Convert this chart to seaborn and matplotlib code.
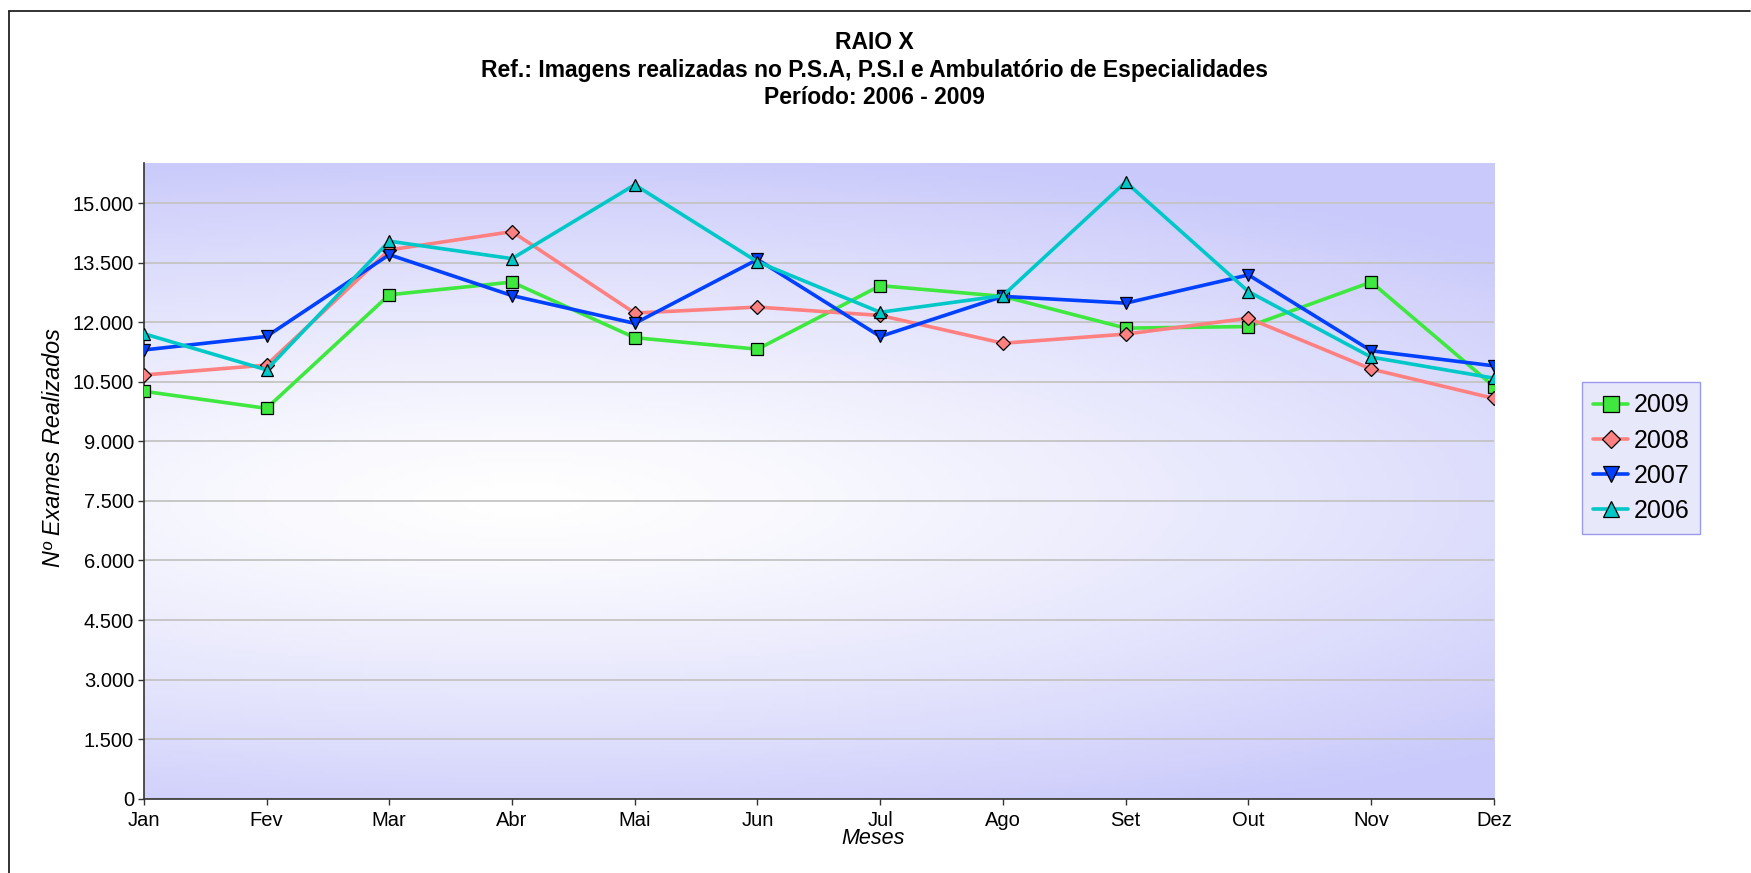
import numpy as np
import pandas as pd
import matplotlib
matplotlib.use('Agg')
import matplotlib.pyplot as plt
from matplotlib.ticker import FuncFormatter
from matplotlib.lines import Line2D
import seaborn as sns

# Dados
meses = ['Jan', 'Fev', 'Mar', 'Abr', 'Mai', 'Jun', 'Jul', 'Ago', 'Set', 'Out', 'Nov', 'Dez']
anos = ['2009', '2008', '2007', '2006']
v2009 = [10260, 9830, 12690, 13010, 11610, 11320, 12920, 12650, 11850, 11890, 13010, 10380]
v2008 = [10670, 10920, 13820, 14280, 12230, 12380, 12170, 11470, 11700, 12100, 10820, 10080]
v2007 = [11300, 11640, 13700, 12670, 11970, 13580, 11640, 12650, 12480, 13190, 11280, 10900]
v2006 = [11710, 10800, 14040, 13600, 15460, 13520, 12250, 12670, 15530, 12770, 11120, 10590]

cores = {'2009': '#3ee83e', '2008': '#ff8080', '2007': '#0040ff', '2006': '#00c8c8'}
marcadores = {'2009': 's', '2008': 'D', '2007': 'v', '2006': '^'}

df = pd.DataFrame({
    'Mes': meses * 4,
    'Ano': [a for a in anos for _ in meses],
    'Exames': v2009 + v2008 + v2007 + v2006,
})

sns.set_theme(style='white')
plt.rcParams['font.family'] = ['Liberation Sans', 'DejaVu Sans']
plt.rcParams['text.color'] = 'black'
plt.rcParams['axes.labelcolor'] = 'black'
plt.rcParams['xtick.color'] = 'black'
plt.rcParams['ytick.color'] = 'black'

fig = plt.figure(figsize=(17.51, 8.73), dpi=100)
ax = fig.add_axes([0.0821, 0.0851, 0.7711, 0.7278])

# fundo em degradê
gx, gy = np.meshgrid(np.linspace(0, 1, 300), np.linspace(0, 1, 200))
d = np.sqrt(((gx - 0.28) / 1.15) ** 2 + ((gy - 0.47) / 0.62) ** 2)
t = np.clip(d / 0.9, 0, 1) ** 1.3
branco = np.array([1.0, 1.0, 1.0])
lavanda = np.array([0.79, 0.79, 0.985])
img = branco[None, None, :] * (1 - t[..., None]) + lavanda[None, None, :] * t[..., None]
ax.imshow(img, extent=(0, 11, 0, 16000), origin='lower', aspect='auto', zorder=0)

sns.lineplot(data=df, x='Mes', y='Exames', hue='Ano', style='Ano', hue_order=anos,
             style_order=anos, palette=cores, markers=marcadores, dashes=False,
             sort=False, linewidth=2.6, markersize=9, markeredgecolor='black',
             markeredgewidth=0.9, ax=ax, zorder=3)
for ln in ax.lines:
    if ln.get_marker() == 'D':
        ln.set_markersize(7)

ax.set_xlim(0, 11)
ax.set_ylim(0, 16000)
ax.set_yticks(range(0, 15001, 1500))
ax.yaxis.set_major_formatter(FuncFormatter(lambda v, p: f'{int(v):,}'.replace(',', '.')))
ax.set_axisbelow(True)
ax.yaxis.grid(True, color='#c4c4c4', linewidth=1.3)
ax.xaxis.grid(False)
for s in ['top', 'right']:
    ax.spines[s].set_visible(False)
for s in ['left', 'bottom']:
    ax.spines[s].set_color('#333333')
    ax.spines[s].set_linewidth(1.2)
ax.tick_params(axis='both', which='both', direction='out', length=4, width=1,
               color='#333333', labelsize=14.5, pad=3, left=True, bottom=True,
               labelcolor='black')
ax.tick_params(axis='x', pad=4.5)
ax.set_xlabel('')
ax.set_ylabel('')

fig.text(0.0305, 1 - 448 / 873, 'Nº Exames Realizados', rotation=90, ha='center',
         va='center', fontsize=16.8, style='italic')
fig.text(873 / 1751, 1 - 839 / 873, 'Meses', ha='center', va='center', fontsize=15.5,
         style='italic')

fig.text(0.4995, 1 - 70 / 873,
         'RAIO X\nRef.: Imagens realizadas no P.S.A, P.S.I e Ambulatório de Especialidades\nPeríodo: 2006 - 2009',
         ha='center', va='center', fontsize=16.5, fontweight='bold', linespacing=1.23)

handles, labels = ax.get_legend_handles_labels()
for h in handles:
    if h.get_marker() == 'D':
        h.set_markersize(9)
    else:
        h.set_markersize(11)
ax.legend(handles, labels, loc='upper left', bbox_to_anchor=(1582 / 1751, 1 - 382 / 873),
          bbox_transform=fig.transFigure, fontsize=18, frameon=True, fancybox=False,
          facecolor='#e8e8fb', edgecolor='#9a9aee', framealpha=1, handlelength=1.4,
          handletextpad=0.2, labelspacing=0.45, borderpad=0.45, borderaxespad=0)

# moldura externa
x0 = 9 / 1751
y0 = 1 - 10.5 / 873
fig.add_artist(Line2D([x0, x0], [0, y0], transform=fig.transFigure, color='#222222', lw=1.3))
fig.add_artist(Line2D([x0, 0.9995], [y0, y0], transform=fig.transFigure, color='#222222', lw=1.3))

fig.savefig('out.png', dpi=100)
